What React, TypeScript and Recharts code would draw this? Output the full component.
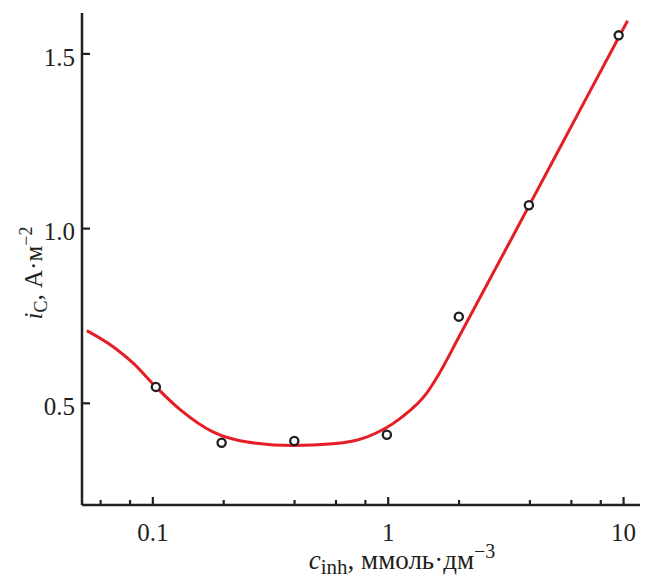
import React from "react";
import {
  ComposedChart,
  Line,
  Scatter,
  XAxis,
  YAxis,
  Label,
} from "recharts";

// measured points (open circles)
const pointX = [0.103, 0.196, 0.399, 0.987, 1.995, 3.96, 9.53];
const pointY = [0.547, 0.387, 0.392, 0.41, 0.748, 1.067, 1.553];

// fitted curve (red)
const curveX = [
  0.0524, 0.0678, 0.0825, 0.103, 0.131, 0.18, 0.252, 0.394, 0.583, 0.814,
  1.125, 1.46, 1.61, 2.02, 4.0, 6.5, 10.4,
];
const curveY = [
  0.708, 0.662, 0.615, 0.547, 0.481, 0.418, 0.389, 0.379, 0.384, 0.404,
  0.457, 0.53, 0.574, 0.696, 1.07, 1.337, 1.595,
];

const xTicks = [0.06, 0.08, 0.1, 0.2, 0.4, 0.6, 0.8, 1, 2, 4, 6, 8, 10];
const xMajor = [0.1, 1, 10];
const xMajorLabels = ["0.1", "1", "10"];
const yTicks = [0.5, 1.0, 1.5];

const points = pointX.map((x, i) => ({ x, y: pointY[i] }));
const curve = curveX.map((x, i) => ({ x, y: curveY[i] }));

const INK = "#231f20";
const FONT = "Times New Roman, Liberation Serif, serif";
const TICK_MARGIN = 20;

const XTick = (props: any) => {
  const { x, y, payload } = props;
  const v = payload.value;
  const idx = xMajor.indexOf(v);
  const axisY = y - TICK_MARGIN;
  return (
    <g>
      <line
        x1={x}
        x2={x}
        y1={axisY}
        y2={axisY - (idx >= 0 ? 8 : 5)}
        stroke={INK}
        strokeWidth={2.2}
      />
      {idx >= 0 && (
        <text
          x={x}
          y={axisY + 36}
          textAnchor="middle"
          fontFamily={FONT}
          fontSize={25}
          fill={INK}
        >
          {xMajorLabels[idx]}
        </text>
      )}
    </g>
  );
};

const XTitle = (props: any) => {
  const { viewBox } = props;
  const cx = viewBox.x + viewBox.width / 2 + 37;
  const by = viewBox.y + 64;
  return (
    <text x={cx} y={by} textAnchor="middle" fontFamily={FONT} fontSize={27} fill={INK}>
      <tspan fontStyle="italic">c</tspan>
      <tspan fontSize={21} dy={5}>inh</tspan>
      <tspan dy={-5}>, ммоль·дм</tspan>
      <tspan fontSize={20} dy={-11}>−3</tspan>
    </text>
  );
};

const YTitle = (props: any) => {
  const { viewBox } = props;
  const cx = viewBox.x + 34;
  const cy = viewBox.y + viewBox.height / 2 + 14;
  return (
    <text
      x={cx}
      y={cy}
      textAnchor="middle"
      transform={`rotate(-90 ${cx} ${cy})`}
      fontFamily={FONT}
      fontSize={25}
      fill={INK}
    >
      <tspan fontStyle="italic">i</tspan>
      <tspan fontSize={18} dy={5}>C</tspan>
      <tspan dy={-5}>, А·м</tspan>
      <tspan fontSize={18} dy={-10}>−2</tspan>
    </text>
  );
};

const OpenDot = (props: any) => {
  const { cx, cy } = props;
  return <circle cx={cx} cy={cy} r={4.1} fill="#fff" stroke={INK} strokeWidth={2.3} />;
};

export default function App() {
  return (
    <ComposedChart
      width={640}
      height={571}
      margin={{ top: 5, right: 0, bottom: 0, left: 0 }}
    >
      <XAxis
        dataKey="x"
        type="number"
        scale="log"
        domain={[0.05, 12.7]}
        allowDataOverflow
        ticks={xTicks}
        interval={0}
        height={74}
        tickSize={0}
        tickMargin={TICK_MARGIN}
        tickLine={false}
        axisLine={{ stroke: INK, strokeWidth: 2.5 }}
        tick={<XTick />}
      >
        <Label content={<XTitle />} />
      </XAxis>
      <YAxis
        type="number"
        domain={[0.209, 1.617]}
        allowDataOverflow
        ticks={yTicks}
        width={74}
        tickSize={-8}
        tickMargin={15}
        tickFormatter={(v: number) => v.toFixed(1)}
        tick={{ fontFamily: FONT, fontSize: 25, fill: INK, dy: 3 }}
        tickLine={{ stroke: INK, strokeWidth: 2.2 }}
        axisLine={{ stroke: INK, strokeWidth: 2.5 }}
      >
        <Label content={<YTitle />} />
      </YAxis>
      <Line
        data={curve}
        dataKey="y"
        type="monotone"
        stroke="#e41e26"
        strokeWidth={3}
        dot={false}
        activeDot={false}
        isAnimationActive={false}
      />
      <Scatter
        data={points}
        dataKey="y"
        shape={<OpenDot />}
        isAnimationActive={false}
      />
    </ComposedChart>
  );
}
